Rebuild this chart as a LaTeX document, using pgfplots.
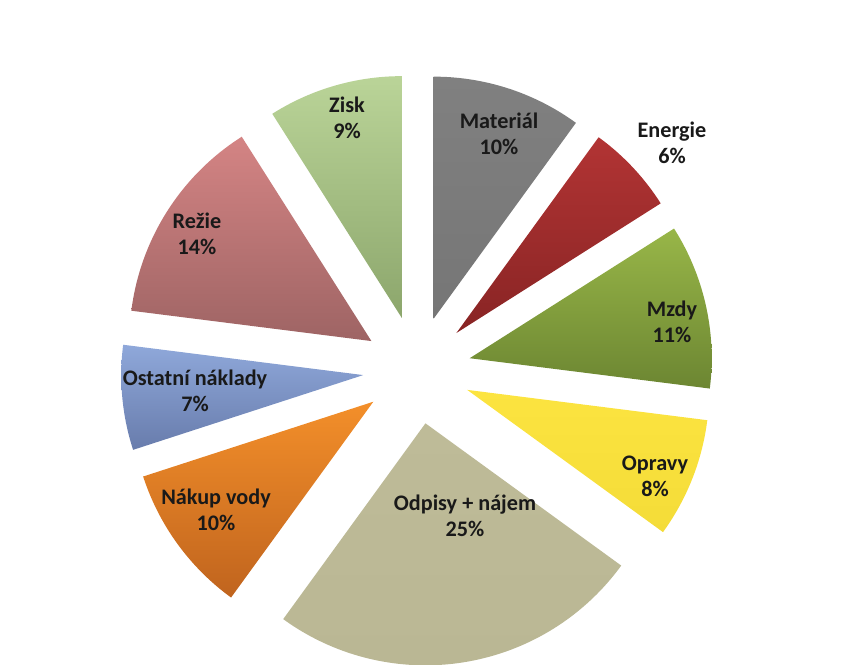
\documentclass[border=0pt]{standalone}
\usepackage{pgfplots}
\pgfplotsset{compat=1.18}
\usepackage{fontspec}
\setmainfont{Carlito}

% slice colours: top / bottom of the gradient
\definecolor{matT}{RGB}{128,128,128}\definecolor{matB}{RGB}{118,118,118}
\definecolor{eneT}{RGB}{178,52,52}\definecolor{eneB}{RGB}{136,36,36}
\definecolor{mzdT}{RGB}{152,182,72}\definecolor{mzdB}{RGB}{108,134,50}
\definecolor{opaT}{RGB}{252,228,64}\definecolor{opaB}{RGB}{244,220,56}
\definecolor{odpT}{RGB}{190,187,152}\definecolor{odpB}{RGB}{186,183,148}
\definecolor{nakT}{RGB}{243,143,42}\definecolor{nakB}{RGB}{192,100,30}
\definecolor{ostT}{RGB}{143,168,218}\definecolor{ostB}{RGB}{104,124,172}
\definecolor{rezT}{RGB}{212,132,132}\definecolor{rezB}{RGB}{158,100,100}
\definecolor{zisT}{RGB}{186,212,152}\definecolor{zisB}{RGB}{140,166,108}

\tikzset{lbl/.style={font=\fontsize{11.1}{13}\selectfont\bfseries,
    align=center, text=black!90, inner sep=0pt}}

% #1 cumulative percent before the slice, #2 percent, #3/#4 colours
\newcommand\slice[4]{%
  \pgfmathsetmacro\aA{90-3.6*#1}%
  \pgfmathsetmacro\aB{90-3.6*(#1+#2)}%
  \pgfmathsetmacro\aM{(\aA+\aB)/2}%
  \pgfmathsetmacro\cx{417+54*cos(\aM)}%
  \pgfmathsetmacro\cy{294+54*sin(\aM)}%
  \edef\doit{\noexpand\addplot[draw=none, top color=#3, bottom color=#4,
    domain=\aB:\aA, samples=90] ({\cx+242*cos(x)},{\cy+242*sin(x)})
    -- (axis cs:\cx,\cy) -- cycle;}%
  \doit}

\begin{document}
\begin{tikzpicture}
\begin{axis}[
    width=428pt, height=332pt,
    scale only axis,
    xmin=0, xmax=856,
    ymin=0, ymax=664,
    hide axis,
    clip=true,
    ]
\slice{0}{10}{matT}{matB}   % Materiál
\slice{10}{6}{eneT}{eneB}   % Energie
\slice{16}{11}{mzdT}{mzdB}  % Mzdy
\slice{27}{8}{opaT}{opaB}   % Opravy
\slice{35}{25}{odpT}{odpB}  % Odpisy + nájem
\slice{60}{10}{nakT}{nakB}  % Nákup vody
\slice{70}{7}{ostT}{ostB}   % Ostatní náklady
\slice{77}{14}{rezT}{rezB}  % Režie
\slice{91}{9}{zisT}{zisB}   % Zisk

\node[lbl] at (axis cs:499,530) {Materiál\\10\%};
\node[lbl] at (axis cs:672,521) {Energie\\6\%};
\node[lbl] at (axis cs:672,342) {Mzdy\\11\%};
\node[lbl] at (axis cs:655,188) {Opravy\\8\%};
\node[lbl] at (axis cs:465,148) {Odpisy + nájem\\25\%};
\node[lbl] at (axis cs:216,154) {Nákup vody\\10\%};
\node[lbl] at (axis cs:195,273) {Ostatní náklady\\7\%};
\node[lbl] at (axis cs:197,430) {Režie\\14\%};
\node[lbl] at (axis cs:347,546) {Zisk\\9\%};
\end{axis}
\pgfresetboundingbox
\path[use as bounding box] (current axis.south west) rectangle (current axis.north east);
\end{tikzpicture}
\end{document}
